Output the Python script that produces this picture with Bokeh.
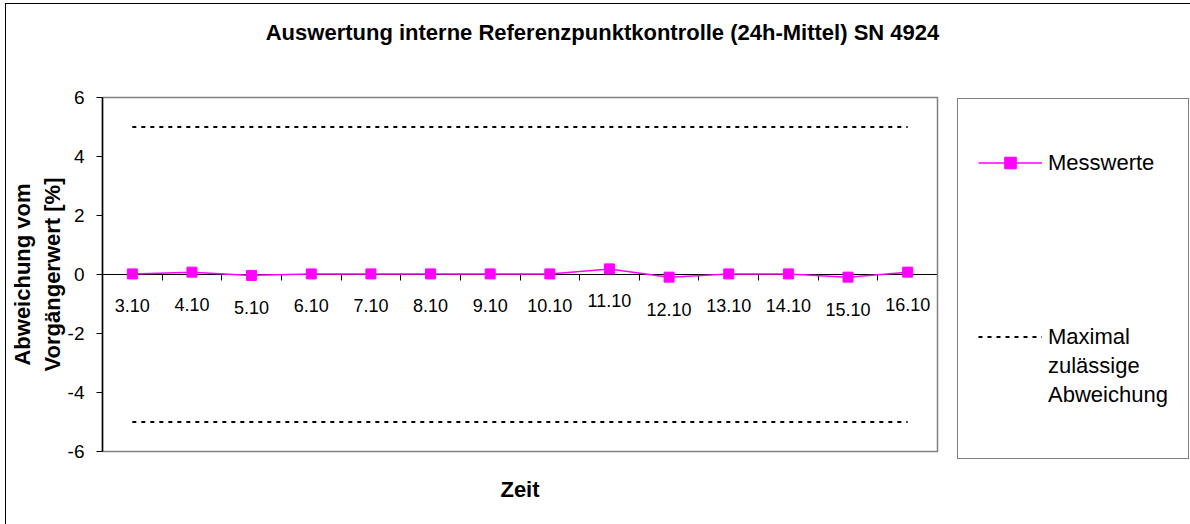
from bokeh.plotting import figure
from bokeh.models import (Range1d, LinearAxis, FixedTicker, ColumnDataSource,
                          LabelSet, Label, Legend, LegendItem, BoxAnnotation)
from bokeh.core.properties import value
from bokeh.embed import file_html
from bokeh.resources import INLINE

# ---- data ----
dates = ["3.10", "4.10", "5.10", "6.10", "7.10", "8.10", "9.10",
         "10.10", "11.10", "12.10", "13.10", "14.10", "15.10", "16.10"]
messwerte = [0.02, 0.08, -0.03, 0.02, 0.02, 0.02, 0.02,
             0.02, 0.19, -0.09, 0.02, 0.02, -0.09, 0.08]
limit_upper = [5, 5, 5, 5, 5, 5, 5, 5, 5, 5, 5, 5, 5, 5]
limit_lower = [-5, -5, -5, -5, -5, -5, -5, -5, -5, -5, -5, -5, -5, -5]
y_ticks = [-6, -4, -2, 0, 2, 4, 6]
y_tick_labels = ["-6", "-4", "-2", "0", "2", "4", "6"]

TITLE = "Auswertung interne Referenzpunktkontrolle (24h-Mittel) SN 4924"
X_TITLE = "Zeit"
Y_TITLE = "Abweichung vom\nVorgängerwert [%]"

FONT = "Liberation Sans"
MAGENTA = "#ff00ff"

# ---- layout (pixels of the 1190x524 canvas) ----
W, H = 1190, 524
PX_L, PX_R, PX_T, PX_B = 102, 937, 97, 451      # plot area
n = len(dates)
y_min, y_max = y_ticks[0], y_ticks[-1]
ppx = (PX_R - PX_L) / n
ppy = (PX_B - PX_T) / (y_max - y_min)
x_rng = Range1d(-PX_L / ppx, n + (W - PX_R) / ppx)
y_rng = Range1d(y_min - (H - PX_B) / ppy, y_max + PX_T / ppy)


def dx(px):
    return x_rng.start + px / ppx


def dy(py):
    return y_rng.end - py / ppy


xc = [i + 0.5 for i in range(n)]          # category centres
bounds = list(range(n + 1))               # category boundaries (tick marks)

src = ColumnDataSource(dict(x=xc, y=messwerte, label=dates))

p = figure(width=W, height=H, output_backend="svg", toolbar_location=None,
           title=None, x_range=x_rng, y_range=y_rng,
           x_axis_type=None, y_axis_type=None,
           min_border=0, min_border_left=0, min_border_right=0,
           min_border_top=0, min_border_bottom=0,
           background_fill_alpha=0.0, border_fill_alpha=0.0,
           outline_line_color=None)

# outer chart border (left / top edges only, the rest lies outside the picture)
p.styles = {"box-shadow": "inset 5px 3px 0 0 #ffffff, inset 6px 4px 0 0 #000000"}

# plot area border
p.add_layout(BoxAnnotation(left=0, right=n, bottom=y_min, top=y_max,
                           fill_color=None, line_color="#808080",
                           line_alpha=1.0, line_width=1.5, level="underlay"))

# y axis at left edge of plot area
yaxis = LinearAxis(ticker=FixedTicker(ticks=y_ticks, minor_ticks=[]),
                   fixed_location=0, bounds=(y_min, y_max),
                   major_label_overrides=dict(zip(y_ticks, y_tick_labels)),
                   axis_label=Y_TITLE,
                   axis_label_text_font=FONT, axis_label_text_font_size="22px",
                   axis_label_text_font_style="bold", axis_label_text_color="black",
                   axis_label_standoff=0,
                   major_label_text_font=FONT, major_label_text_font_size="19px",
                   major_label_text_color="black", major_label_standoff=12,
                   major_tick_out=6, major_tick_in=0,
                   minor_tick_out=0, minor_tick_in=0,
                   axis_line_color="black", axis_line_width=1.5,
                   major_tick_line_color="black")
p.add_layout(yaxis, "left")

# x axis crossing at y = 0
xaxis = LinearAxis(ticker=FixedTicker(ticks=bounds, minor_ticks=[]),
                   fixed_location=0, bounds=(0, n),
                   major_label_overrides={b: "" for b in bounds},
                   major_tick_out=6, major_tick_in=0,
                   minor_tick_out=0, minor_tick_in=0,
                   axis_line_color="black", axis_line_width=1,
                   major_tick_line_color="black")
xaxis.level = "underlay"
p.add_layout(xaxis, "below")

# titles
p.add_layout(Label(x=dx(602), y=dy(32), text=TITLE, text_align="center",
                   text_baseline="middle", text_font=FONT,
                   text_font_size="22px", text_font_style="bold",
                   text_color="black"))
p.add_layout(Label(x=dx((PX_L + PX_R) / 2), y=dy(489), text=X_TITLE,
                   text_align="center", text_baseline="middle",
                   text_font=FONT, text_font_size="22px",
                   text_font_style="bold", text_color="black"))

# series
r_hi = p.line(xc, limit_upper, line_color="black", line_dash="4 5", line_width=2)
r_lo = p.line(xc, limit_lower, line_color="black", line_dash="4 5", line_width=2)
r_line = p.line("x", "y", source=src, line_color=MAGENTA, line_width=1.5)
r_pts = p.scatter("x", "y", source=src, marker="square", size=10,
                  fill_color=MAGENTA, line_color=MAGENTA)

labels = LabelSet(x="x", y="y", text="label", source=src, y_offset=-32,
                  text_align="center", text_baseline="middle",
                  text_font=value(FONT), text_font_size="18px", text_color="black")
p.add_layout(labels)

# legend
r_blank = p.line([], [], line_alpha=0)
items = [LegendItem(label=" ", renderers=[r_blank]),
         LegendItem(label="Messwerte", renderers=[r_line, r_pts])]
items += [LegendItem(label=" ", renderers=[r_blank]) for _ in range(5)]
items += [LegendItem(label="Maximal", renderers=[r_hi]),
          LegendItem(label="zulässige", renderers=[r_blank]),
          LegendItem(label="Abweichung", renderers=[r_blank]),
          LegendItem(label=" ", renderers=[r_blank])]

LEG_PAD, LEG_ROW = 20, 29
leg_h = 2 * LEG_PAD + len(items) * LEG_ROW
legend = Legend(items=items, location=(957, H - 100 - leg_h),
                orientation="vertical",
                padding=LEG_PAD, spacing=0, margin=0,
                glyph_width=64, glyph_height=LEG_ROW, label_height=LEG_ROW,
                label_standoff=6, label_text_font=FONT,
                label_text_font_size="22px", label_text_color="black",
                border_line_color="black", border_line_width=1.5,
                background_fill_color="white", background_fill_alpha=1.0)
p.add_layout(legend)

open("out.html", "w").write(file_html(p, INLINE))
